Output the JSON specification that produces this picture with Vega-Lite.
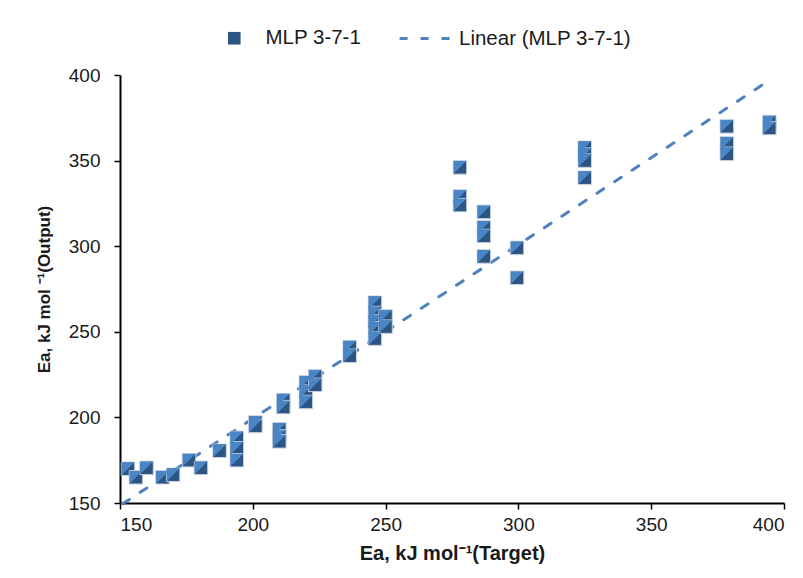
{
  "$schema": "https://vega.github.io/schema/vega-lite/v6.json",
  "width": 664,
  "height": 428,
  "autosize": {"type": "none"},
  "padding": {"left": 120, "top": 75, "right": 19, "bottom": 75},
  "background": "white",
  "config": {
    "view": {"stroke": null},
    "font": "Liberation Sans",
    "axis": {
      "grid": false,
      "domainColor": "#000000",
      "domainWidth": 2,
      "tickColor": "#000000",
      "tickWidth": 1.5,
      "tickSize": 6,
      "labelFont": "Liberation Sans",
      "labelFontSize": 19,
      "labelColor": "#1a1a1a",
      "titleFont": "Liberation Sans",
      "titleFontWeight": "bold",
      "titleColor": "#1a1a1a"
    },
    "legend": {"padding": 0, "labelFont": "Liberation Sans", "labelFontSize": 20.5, "labelColor": "#1a1a1a", "labelLimit": 0}
  },
  "datasets": {
    "pts": [
      {"x": 153, "y": 170, "s": "MLP 3-7-1"},
      {"x": 156, "y": 165, "s": "MLP 3-7-1"},
      {"x": 160, "y": 170.5, "s": "MLP 3-7-1"},
      {"x": 166, "y": 165, "s": "MLP 3-7-1"},
      {"x": 170, "y": 166.5, "s": "MLP 3-7-1"},
      {"x": 176, "y": 175, "s": "MLP 3-7-1"},
      {"x": 180.5, "y": 170.5, "s": "MLP 3-7-1"},
      {"x": 187.5, "y": 180.5, "s": "MLP 3-7-1"},
      {"x": 194, "y": 188, "s": "MLP 3-7-1"},
      {"x": 194, "y": 182, "s": "MLP 3-7-1"},
      {"x": 194, "y": 175, "s": "MLP 3-7-1"},
      {"x": 201, "y": 197, "s": "MLP 3-7-1"},
      {"x": 201, "y": 195, "s": "MLP 3-7-1"},
      {"x": 210, "y": 193, "s": "MLP 3-7-1"},
      {"x": 210, "y": 189, "s": "MLP 3-7-1"},
      {"x": 210, "y": 186, "s": "MLP 3-7-1"},
      {"x": 211.5, "y": 210, "s": "MLP 3-7-1"},
      {"x": 211.5, "y": 206, "s": "MLP 3-7-1"},
      {"x": 220, "y": 220.5, "s": "MLP 3-7-1"},
      {"x": 220, "y": 215, "s": "MLP 3-7-1"},
      {"x": 220, "y": 209, "s": "MLP 3-7-1"},
      {"x": 223.5, "y": 224, "s": "MLP 3-7-1"},
      {"x": 223.5, "y": 219, "s": "MLP 3-7-1"},
      {"x": 236.5, "y": 241, "s": "MLP 3-7-1"},
      {"x": 236.5, "y": 236, "s": "MLP 3-7-1"},
      {"x": 246, "y": 267, "s": "MLP 3-7-1"},
      {"x": 246, "y": 261, "s": "MLP 3-7-1"},
      {"x": 246, "y": 256, "s": "MLP 3-7-1"},
      {"x": 246, "y": 252, "s": "MLP 3-7-1"},
      {"x": 246, "y": 246, "s": "MLP 3-7-1"},
      {"x": 250, "y": 259, "s": "MLP 3-7-1"},
      {"x": 250, "y": 253, "s": "MLP 3-7-1"},
      {"x": 278, "y": 346, "s": "MLP 3-7-1"},
      {"x": 278, "y": 329, "s": "MLP 3-7-1"},
      {"x": 278, "y": 324, "s": "MLP 3-7-1"},
      {"x": 287, "y": 320, "s": "MLP 3-7-1"},
      {"x": 287, "y": 311, "s": "MLP 3-7-1"},
      {"x": 287, "y": 306, "s": "MLP 3-7-1"},
      {"x": 287, "y": 294, "s": "MLP 3-7-1"},
      {"x": 299.5, "y": 299, "s": "MLP 3-7-1"},
      {"x": 299.5, "y": 281.5, "s": "MLP 3-7-1"},
      {"x": 325, "y": 357.5, "s": "MLP 3-7-1"},
      {"x": 325, "y": 353.5, "s": "MLP 3-7-1"},
      {"x": 325, "y": 350, "s": "MLP 3-7-1"},
      {"x": 325, "y": 340, "s": "MLP 3-7-1"},
      {"x": 378.5, "y": 370, "s": "MLP 3-7-1"},
      {"x": 378.5, "y": 360, "s": "MLP 3-7-1"},
      {"x": 378.5, "y": 354, "s": "MLP 3-7-1"},
      {"x": 394.5, "y": 372.5, "s": "MLP 3-7-1"},
      {"x": 394.5, "y": 369, "s": "MLP 3-7-1"}
    ],
    "trend": [
      {"x": 151, "y": 149.5, "t": "Linear (MLP 3-7-1)"},
      {"x": 394.7, "y": 397.1, "t": "Linear (MLP 3-7-1)"}
    ]
  },
  "layer": [
    {
      "data": {"name": "trend"},
      "mark": {"type": "line", "color": "#4f81bd", "strokeWidth": 3, "strokeCap": "round", "clip": false},
      "encoding": {
        "x": {"field": "x", "type": "quantitative", "scale": {"domain": [150, 400], "nice": false, "zero": false},
              "axis": {"values": [150, 200, 250, 300, 350, 400], "title": "Ea, kJ mol⁻¹(Target)", "titleFontSize": 20, "labelPadding": 6, "titlePadding": 9}},
        "y": {"field": "y", "type": "quantitative", "scale": {"domain": [150, 400], "nice": false, "zero": false},
              "axis": {"values": [150, 200, 250, 300, 350, 400], "title": "Ea, kJ mol ⁻¹(Output)", "titleFontSize": 17, "labelPadding": 14, "titlePadding": 15}},
        "strokeDash": {"field": "t", "type": "nominal", "scale": {"range": [[8, 13]]},
          "legend": {"title": null, "orient": "none", "legendX": 278, "legendY": -65, "symbolType": "stroke", "symbolSize": 2900,
                     "symbolStrokeColor": "#4f81bd", "symbolStrokeWidth": 3, "labelOffset": 4}}
      }
    },
    {
      "data": {"name": "pts"},
      "mark": {"type": "point", "filled": true, "size": 180, "color": "#2c5584", "stroke": "#c9d3df", "strokeWidth": 1, "opacity": 1},
      "encoding": {
        "x": {"field": "x", "type": "quantitative"},
        "y": {"field": "y", "type": "quantitative"},
        "shape": {"field": "s", "type": "nominal", "scale": {"range": ["square"]},
          "legend": {"title": null, "orient": "none", "legendX": 104, "legendY": -47, "symbolSize": 160,
                     "symbolFillColor": "#2c5584", "symbolStrokeColor": "#c9d3df", "symbolStrokeWidth": 1, "labelOffset": 21}}
      }
    },
    {
      "data": {"name": "pts"},
      "mark": {"type": "point", "filled": true, "size": 165, "shape": "M-1,-1L1,-1L0,0L-1,1Z", "color": "#4a85c6", "opacity": 1},
      "encoding": {
        "x": {"field": "x", "type": "quantitative"},
        "y": {"field": "y", "type": "quantitative"}
      }
    }
  ]
}
